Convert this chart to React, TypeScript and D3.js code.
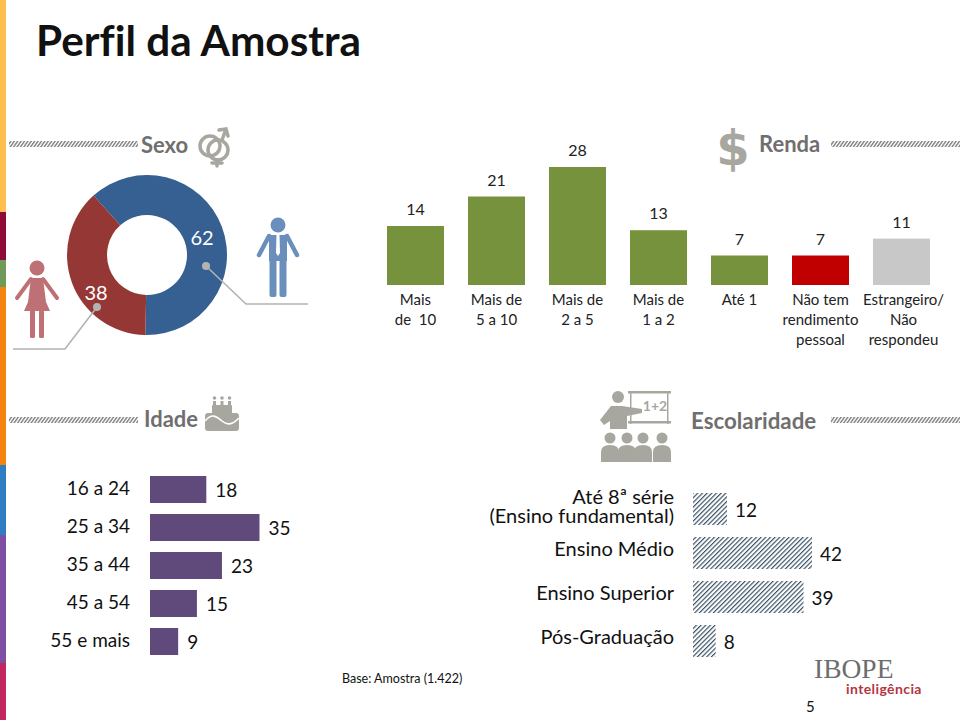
import React from "react";
import * as d3 from "d3";

const sexLabels = ["Masculino", "Feminino"];
const sexValues = [62, 38];
const sexColors = ["#366092", "#953735"];

const rendaLabels = [
  ["Mais", "de  10"],
  ["Mais de", "5 a 10"],
  ["Mais de", "2 a 5"],
  ["Mais de", "1 a 2"],
  ["Até 1"],
  ["Não tem", "rendimento", "pessoal"],
  ["Estrangeiro/", "Não", "respondeu"],
];
const rendaValues = [14, 21, 28, 13, 7, 7, 11];
const rendaColors = ["#76923c", "#76923c", "#76923c", "#76923c", "#76923c", "#c00000", "#c8c8c8"];

const idadeLabels = ["16 a 24", "25 a 34", "35 a 44", "45 a 54", "55 e mais"];
const idadeValues = [18, 35, 23, 15, 9];

const escLabels = [["Até 8ª série", "(Ensino fundamental)"], ["Ensino Médio"], ["Ensino Superior"], ["Pós-Graduação"]];
const escValues = [12, 42, 39, 8];

const strip = [
  { y0: 0, y1: 212, c: "#fdbf4f" },
  { y0: 212, y1: 260, c: "#8f0a36" },
  { y0: 260, y1: 287, c: "#6f9a5a" },
  { y0: 287, y1: 465, c: "#f5830f" },
  { y0: 465, y1: 535, c: "#2e7fc1" },
  { y0: 535, y1: 663, c: "#7e4ea3" },
  { y0: 663, y1: 720, c: "#c0285f" },
];

const FONT = "Lato, 'Open Sans', sans-serif";
const GREY = "#6f6f6f";
const ICON = "#a8a79f";

function Person({ x, y, color, female }: { x: number; y: number; color: string; female?: boolean }) {
  return (
    <g transform={`translate(${x},${y})`} fill={color} stroke="none">
      <circle cx={0} cy={8} r={7.5} />
      {female ? (
        <>
          <path d="M-6,18 L6,18 L9,42 L13,51 L-13,51 L-9,42 Z" />
          <path d="M-6,19 L-20,38" stroke={color} strokeWidth={4} strokeLinecap="round" />
          <path d="M6,19 L20,38" stroke={color} strokeWidth={4} strokeLinecap="round" />
          <rect x={-7} y={50} width={5} height={28} rx={1.5} />
          <rect x={2} y={50} width={5} height={28} rx={1.5} />
        </>
      ) : (
        <>
          <path d="M-9,18 L9,18 L9,44 L-9,44 Z" />
          <path d="M-9,19 L-19,38" stroke={color} strokeWidth={4.5} strokeLinecap="round" />
          <path d="M9,19 L19,38" stroke={color} strokeWidth={4.5} strokeLinecap="round" />
          <rect x={-8.5} y={42} width={7} height={38} rx={2} />
          <rect x={1.5} y={42} width={7} height={38} rx={2} />
          <path d="M-1.5,18 L1.5,18 L2,36 L0,39 L-2,36 Z" fill="#ffffff" />
        </>
      )}
    </g>
  );
}

export default function App() {
  const pie = d3
    .pie<number>()
    .sort(null)
    .startAngle((-42 * Math.PI) / 180)
    .endAngle(((360 - 42) * Math.PI) / 180)(sexValues);
  const arc = d3.arc<d3.PieArcDatum<number>>().innerRadius(40).outerRadius(80);

  const rx = d3.scaleBand<number>().domain(d3.range(rendaValues.length)).range([375, 942]).paddingInner(24 / 81).paddingOuter(12 / 81);
  const ry = d3.scaleLinear().domain([0, 28]).range([285, 167]);

  const ix = d3.scaleLinear().domain([0, 35]).range([150, 259.5]);
  const iy = d3.scaleBand<number>().domain(d3.range(5)).range([470.5, 660.5]).paddingInner(11 / 38).paddingOuter(5.5 / 38);

  const ex = d3.scaleLinear().domain([0, 42]).range([693, 812]);
  const ey = d3.scaleBand<number>().domain(d3.range(4)).range([487, 663]).paddingInner(12 / 44).paddingOuter(6 / 44);

  const rope = [
    { x: 9, y: 144 },
    { x: 9, y: 420 },
    { x: 831, y: 144 },
    { x: 831, y: 420 },
  ];

  return (
    <svg
      width={960}
      height={720}
      viewBox="0 0 960 720"
      style={{ position: "absolute", left: 0, top: 0, background: "#fff", fontVariantLigatures: "none" }}
      fontFamily={FONT}
    >
      <defs>
        <pattern id="hatch" width={3.3} height={3.3} patternUnits="userSpaceOnUse" patternTransform="rotate(45)">
          <rect width={3.3} height={3.3} fill="#ffffff" />
          <rect width={1.2} height={3.3} fill="#3d5468" />
        </pattern>
        <pattern id="rope" width={3.4} height={6} patternUnits="userSpaceOnUse" patternTransform="skewX(-35)">
          <rect width={3.4} height={6} fill="#ffffff" />
          <rect width={1.9} height={6} fill="#8b8b8b" />
        </pattern>
      </defs>

      {strip.map((s) => (
        <rect key={s.y0} x={0} y={s.y0} width={6} height={s.y1 - s.y0} fill={s.c} />
      ))}

      <text x={36} y={56} fontSize={42.3} fontWeight={700} fill="#111">Perfil da Amostra</text>

      {rope.map((r) => (
        <rect key={`${r.x}-${r.y}`} x={r.x} y={r.y - 3} width={129} height={6} fill="url(#rope)" />
      ))}

      <text x={141} y={153} fontSize={22} fontWeight={700} fill={GREY}>Sexo</text>
      <text x={144} y={427} fontSize={22} fontWeight={700} fill={GREY}>Idade</text>
      <text x={759} y={152} fontSize={22} fontWeight={700} fill={GREY}>Renda</text>
      <text x={691} y={429} fontSize={22.3} fontWeight={700} fill={GREY}>Escolaridade</text>

      {/* Gender icon */}
      <g fill="none" stroke={ICON} strokeWidth={3.5} strokeLinecap="round">
        <circle cx={210} cy={146} r={10} />
        <circle cx={218} cy={150} r={10} />
        <path d="M222,140 L226,129 M219,130 L226,129 L228,136" />
        <path d="M217,160 L217,166 M212,163 L222,163" />
      </g>

      {/* Dollar icon */}
      <text x={733} y={165} fontSize={48} fontFamily="'DejaVu Sans', sans-serif" fontWeight={700} fill={ICON} textAnchor="middle">$</text>

      {/* Cake icon */}
      <g fill={ICON}>
        <rect x={205} y={413} width={34} height={18} rx={3} />
        <rect x={212} y={405} width={20} height={10} rx={1} />
        <rect x={213} y={401} width={3} height={6} />
        <rect x={220.5} y={401} width={3} height={6} />
        <rect x={228} y={401} width={3} height={6} />
        <circle cx={214.5} cy={398} r={1.8} />
        <circle cx={222} cy={398} r={1.8} />
        <circle cx={229.5} cy={398} r={1.8} />
        <path d="M205,421 C212,413 216,416 222,421 C228,426 233,424 239,418" fill="none" stroke="#fff" strokeWidth={1.6} />
      </g>

      {/* Teacher icon */}
      <g fill={ICON}>
        <rect x={628} y={391} width={43} height={2.5} />
        <rect x={630} y={391} width={1.5} height={33} />
        <rect x={667} y={391} width={1.5} height={33} />
        <rect x={628} y={421} width={43} height={2.5} />
        <circle cx={618} cy={397} r={6} />
        <path d="M600,420 L611,406 L622,406 L642,409 L642,413 L627,416 L627,429 L610,429 L610,421 L604,425 Z" />
        {[610, 627, 643, 662].map((cx) => (
          <g key={cx}>
            <circle cx={cx} cy={438} r={5.5} />
            <path d={`M${cx - 9},462 L${cx - 9},452 Q${cx - 9},445 ${cx},445 Q${cx + 9},445 ${cx + 9},452 L${cx + 9},462 Z`} />
          </g>
        ))}
      </g>
      <text x={655} y={411} fontSize={14} fontWeight={700} fill={ICON} textAnchor="middle">1+2</text>

      {/* Donut */}
      <g transform="translate(147,255)">
        {pie.map((d, i) => (
          <path key={sexLabels[i]} d={arc(d) ?? ""} fill={sexColors[i]} />
        ))}
      </g>
      <text x={202} y={245} fontSize={20} fill="#fff" textAnchor="middle">{sexValues[0]}</text>
      <text x={96} y={300} fontSize={20} fill="#fff" textAnchor="middle">{sexValues[1]}</text>

      <g fill="none" stroke="#b3b3b3" strokeWidth={1.6}>
        <path d="M206,266 L246,304 L308,304" />
        <path d="M97,307 L65,349 L13,349" />
      </g>
      <circle cx={206} cy={266} r={4} fill="#b3b3b3" />
      <circle cx={97} cy={307} r={4} fill="#b3b3b3" />

      <Person x={278} y={217} color="#6b8fbd" />
      <Person x={37} y={260} color="#bf7074" female />

      {/* Renda columns */}
      {rendaValues.map((v, i) => (
        <g key={i}>
          <rect x={rx(i)} y={ry(v)} width={rx.bandwidth()} height={285 - ry(v)} fill={rendaColors[i]} />
          <text x={(rx(i) ?? 0) + rx.bandwidth() / 2} y={ry(v) - 11} fontSize={16} fill="#222" textAnchor="middle">{v}</text>
          {rendaLabels[i].map((line, j) => (
            <text key={j} x={(rx(i) ?? 0) + rx.bandwidth() / 2 + (i === 6 ? 2 : 0)} y={305 + j * 20} fontSize={15} fill="#222" textAnchor="middle" style={{ whiteSpace: "pre" }}>{line}</text>
          ))}
        </g>
      ))}

      {/* Idade bars */}
      {idadeValues.map((v, i) => (
        <g key={idadeLabels[i]}>
          <text x={130} y={(iy(i) ?? 0) + iy.bandwidth() / 2 + 5} fontSize={19} fill="#111" textAnchor="end">{idadeLabels[i]}</text>
          <rect x={150} y={iy(i)} width={ix(v) - 150} height={iy.bandwidth()} fill="#604a7b" />
          <text x={ix(v) + 9} y={(iy(i) ?? 0) + iy.bandwidth() / 2 + 7} fontSize={19} fill="#111">{v}</text>
        </g>
      ))}

      {/* Escolaridade bars */}
      {escValues.map((v, i) => {
        const mid = (ey(i) ?? 0) + ey.bandwidth() / 2;
        const lines = escLabels[i];
        return (
          <g key={lines[0]}>
            {lines.map((line, j) => (
              <text key={j} x={674} y={lines.length > 1 ? 504 + j * 19 : mid + 3} fontSize={20} fill="#111" textAnchor="end">
                {line}
              </text>
            ))}
            <rect x={693} y={ey(i)} width={ex(v) - 693} height={ey.bandwidth()} fill="url(#hatch)" />
            <text x={ex(v) + 8} y={mid + 8} fontSize={19} fill="#111">{v}</text>
          </g>
        );
      })}

      <text x={342} y={683} fontSize={12.5} fill="#111">Base: Amostra (1.422)</text>

      <text x={814} y={678} fontSize={27.5} fontFamily="'Liberation Serif', serif" fill="#6d6d6d">IBOPE</text>
      <text x={846} y={694} fontSize={14} fontWeight={700} fill="#b5363f" letterSpacing={0.4}>inteligência</text>
      <text x={806} y={712} fontSize={15} fill="#111">5</text>
    </svg>
  );
}
